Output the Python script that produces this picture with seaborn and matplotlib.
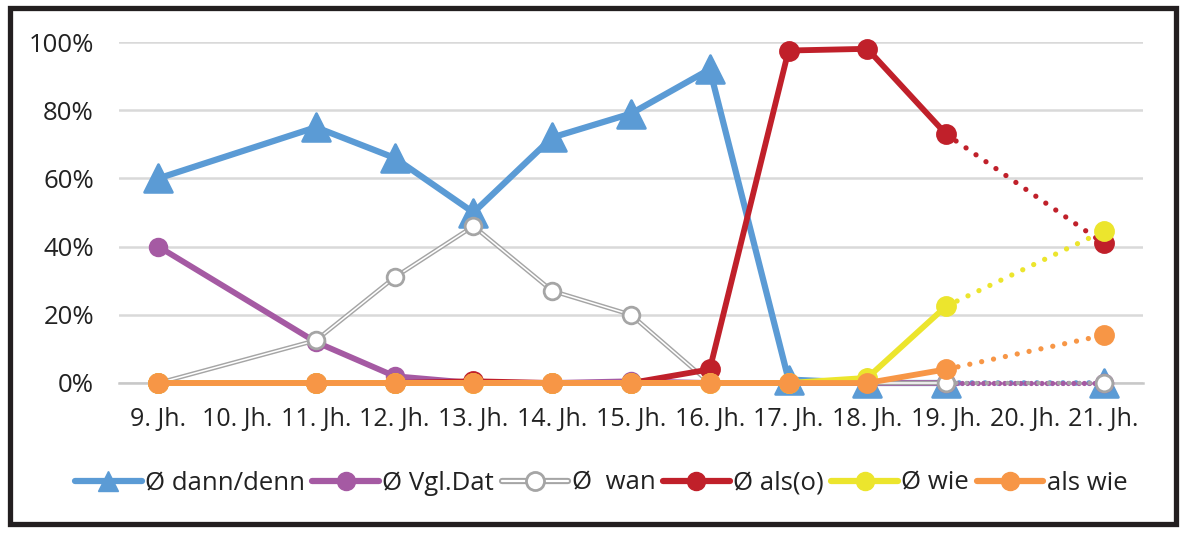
import numpy as np
import pandas as pd
import seaborn as sns
import matplotlib
matplotlib.use("Agg")
import matplotlib.pyplot as plt
from matplotlib.lines import Line2D
from matplotlib.patches import Rectangle
from matplotlib.legend_handler import HandlerTuple

# ---------------- data ----------------
categories = ["9. Jh.", "10. Jh.", "11. Jh.", "12. Jh.", "13. Jh.", "14. Jh.", "15. Jh.",
              "16. Jh.", "17. Jh.", "18. Jh.", "19. Jh.", "20. Jh.", "21. Jh."]
dann_denn = [60, None, 75, 66, 50, 72, 79, 92, 1, 0, 0, None, 0]
vgl_dat   = [40, None, 12, 2, 0, 0, 0.5, 0, 0, 0, 0, None, 0]
wan       = [0, None, 12.5, 31, 46, 27, 20, 0, 0, 0, 0, None, 0]
als_o     = [0, None, 0, 0, 0.5, 0, 0, 4, 97.5, 98, 73, None, 41]
wie       = [0, None, 0, 0, 0, 0, 0, 0, 0, 1.5, 22.5, None, 44.5]
als_wie   = [0, None, 0, 0, 0, 0, 0, 0, 0, 0, 4, None, 14]
series_names = ["Ø dann/denn", "Ø Vgl.Dat", "Ø  wan", "Ø als(o)", "Ø wie", "als wie"]
yticks = [0, 20, 40, 60, 80, 100]

# ---------------- style ----------------
sns.set_style("white")
plt.rcParams['font.family'] = ['Open Sans', 'DejaVu Sans']

BLUE, PURPLE, GREY, RED, YELLOW, ORANGE = "#5b9bd5", "#a55aa3", "#a5a5a5", "#c0202a", "#ece52d", "#f79646"
TXT = "#222222"

fig = plt.figure(figsize=(11.9, 5.37), dpi=100)
ax = fig.add_axes([119/1190, 1-383/537, (1143-119)/1190, (383-42)/537])

x = np.arange(len(categories))
split = categories.index("19. Jh.")

def parts(vals):
    df = pd.DataFrame({"x": x, "y": [np.nan if v is None else v for v in vals]}).dropna()
    solid = df[df.x <= split]
    dotted = df[df.x >= split]
    return solid, dotted

DOT = (0, (0.01, 2.3))

def draw(vals, color, lw, marker, ms, mfc=None, mec=None, z=3, double=False, dot=DOT):
    solid, dotted = parts(vals)
    mfc = color if mfc is None else mfc
    mec = color if mec is None else mec
    if double:
        sns.lineplot(data=solid, x="x", y="y", ax=ax, color=GREY, lw=lw, sort=False,
                     zorder=z, clip_on=False)
        sns.lineplot(data=solid, x="x", y="y", ax=ax, color="white", lw=lw*0.35, sort=False,
                     zorder=z, clip_on=False)
        sns.lineplot(data=dotted, x="x", y="y", ax=ax, color=GREY, lw=lw, sort=False,
                     zorder=z, clip_on=False, linestyle=dot, dash_capstyle="round")
    else:
        sns.lineplot(data=solid, x="x", y="y", ax=ax, color=color, lw=lw, sort=False,
                     zorder=z, clip_on=False, solid_joinstyle="round")
        sns.lineplot(data=dotted, x="x", y="y", ax=ax, color=color, lw=lw*0.9, sort=False,
                     zorder=z, clip_on=False, linestyle=dot, dash_capstyle="round")
    sns.scatterplot(data=pd.concat([solid, dotted]).drop_duplicates(), x="x", y="y", ax=ax,
                    marker=marker, s=ms**2, color=mfc, edgecolor=mec, linewidth=2,
                    zorder=z+0.1, clip_on=False, legend=False)

draw(dann_denn, BLUE, 4.5, "^", 20, z=3)
draw(vgl_dat, PURPLE, 4.2, "o", 12, z=4, dot=(0, (0.01, 1.0)))
draw(wan, GREY, 3.2, "o", 12, mfc="white", mec=GREY, z=5, double=True)
draw(als_o, RED, 4.2, "o", 13, z=6)
draw(wie, YELLOW, 4.2, "o", 13, z=7)
draw(als_wie, ORANGE, 4.2, "o", 13, z=8)

# axes formatting
ax.set_xlim(-0.5, len(categories) - 0.5)
ax.set_ylim(0, 100)
ax.set_xlabel("")
ax.set_ylabel("")
ax.set_yticks(yticks)
ax.set_yticklabels([f"{v}%" for v in yticks], fontsize=18.5, color=TXT)
ax.set_xticks(np.arange(-0.5, len(categories), 1.0))
ax.set_xticklabels([])
ax.set_xticks(x, minor=True)
ax.set_xticklabels(categories, minor=True, fontsize=18, color=TXT)
ax.tick_params(axis="x", which="major", length=9, width=1.5, color="#c8c8c8", direction="out")
ax.tick_params(axis="x", which="minor", length=0, pad=17)
ax.tick_params(axis="y", length=0, pad=18)
ax.grid(axis="y", color="#d9d9d9", lw=1.8, zorder=0)
ax.set_axisbelow(True)
for s in ["left", "right", "top"]:
    ax.spines[s].set_visible(False)
ax.spines["bottom"].set_color("#c8c8c8")
ax.spines["bottom"].set_linewidth(1.8)

# legend
handles = [
    Line2D([], [], color=BLUE, lw=4.5, marker="^", ms=15),
    Line2D([], [], color=PURPLE, lw=4.5, marker="o", ms=13),
    (Line2D([], [], color=GREY, lw=4.5),
     Line2D([], [], color="white", lw=1.6, marker="o", ms=13, mfc="white", mec=GREY, mew=2)),
    Line2D([], [], color=RED, lw=4.5, marker="o", ms=13),
    Line2D([], [], color=YELLOW, lw=4.5, marker="o", ms=13),
    Line2D([], [], color=ORANGE, lw=4.5, marker="o", ms=13),
]
fig.legend(handles, series_names, loc="center", bbox_to_anchor=(0.505, 1-483/537),
           ncol=6, frameon=False, fontsize=18.5, handlelength=2.6, handletextpad=0.12,
           columnspacing=0.3, handler_map={tuple: HandlerTuple(ndivide=1, pad=0)},
           labelcolor=TXT)

# outer frame
fig.patches.append(Rectangle((9.5/1190, 1-523.5/537), (1175.5-9.5)/1190, (523.5-8)/537,
                             transform=fig.transFigure, fill=False, ec="#231f20", lw=3.8))

fig.savefig("out.png", dpi=100)
